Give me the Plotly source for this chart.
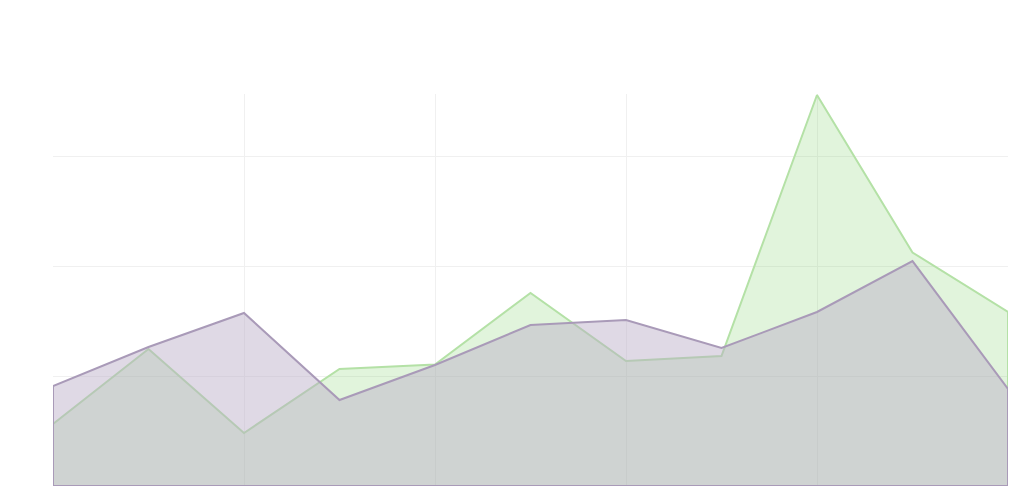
import plotly.graph_objects as go

x_vals = list(range(11))
purple_vals = [9.09, 12.64, 15.73, 7.82, 11.0, 14.64, 15.09, 12.55, 15.82, 20.45, 8.82]
green_vals = [5.64, 12.45, 4.82, 10.64, 11.05, 17.55, 11.36, 11.82, 35.55, 21.23, 15.82]

purple_line = "#a99ab8"
purple_fill = "rgba(186,172,199,0.46)"
green_line = "#b4e1a6"
green_fill = "rgba(130,210,110,0.24)"


def closed(xs, ys):
    return [xs[0]] + xs + [xs[-1], xs[0]], [0] + ys + [0, 0]


px, py = closed(x_vals, purple_vals)
gx, gy = closed(x_vals, green_vals)

fig = go.Figure()
fig.add_trace(go.Scatter(x=gx, y=gy, mode="lines", fill="toself", fillcolor=green_fill,
                         line=dict(color=green_line, width=2), showlegend=False))
fig.add_trace(go.Scatter(x=px, y=py, mode="lines", fill="toself", fillcolor=purple_fill,
                         line=dict(color=purple_line, width=2), showlegend=False))

fig.update_layout(
    width=1024, height=490,
    margin=dict(l=45, r=24, t=86, b=12),
    paper_bgcolor="white", plot_bgcolor="white",
    xaxis=dict(range=[0, 10], dtick=2, tick0=0, showticklabels=False, showgrid=True,
               gridcolor="#f0f0f0", gridwidth=1, zeroline=False, showline=False, ticks=""),
    yaxis=dict(range=[0, 35.64], dtick=10, tick0=0, showticklabels=False, showgrid=True,
               gridcolor="#f0f0f0", gridwidth=1, zeroline=False, showline=False, ticks=""),
)

fig.write_html("out.html")
